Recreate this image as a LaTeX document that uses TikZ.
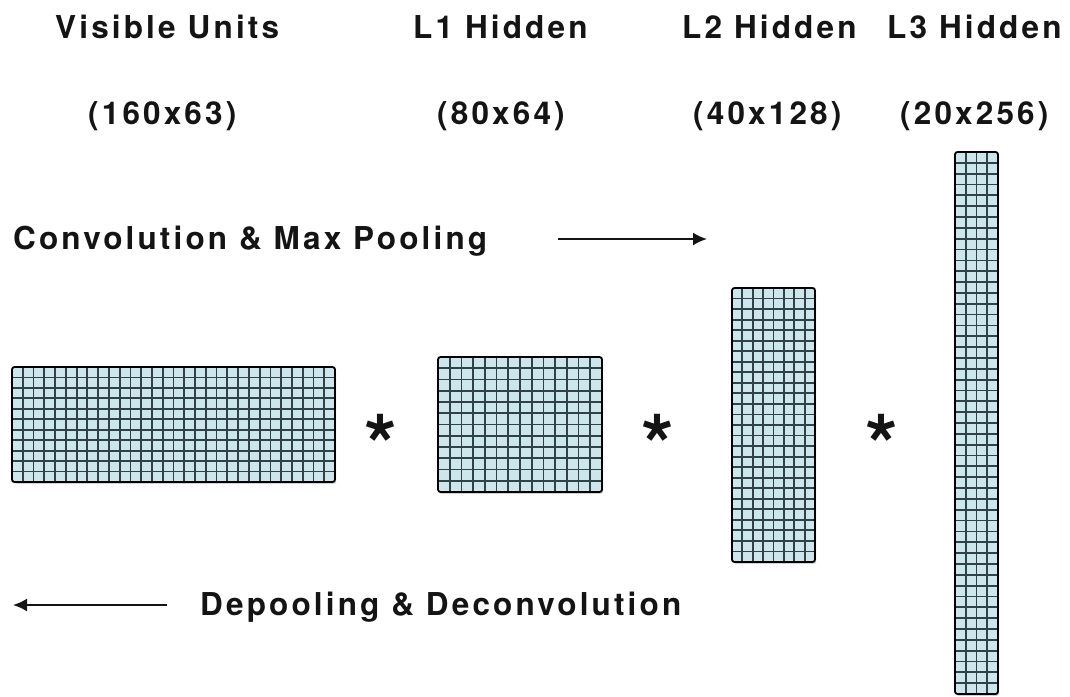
\documentclass[tikz,border=0pt]{standalone}
\usepackage{fontspec}
\setmainfont{TeX Gyre Heros}[LetterSpace=10]
\usetikzlibrary{arrows.meta,shadows,calc}
\definecolor{cellfill}{RGB}{205,230,236}
\definecolor{gridc}{RGB}{48,66,72}
\definecolor{ink}{RGB}{20,20,20}
\tikzset{
  lbl/.style={font=\bfseries\fontsize{31.5}{36}\selectfont, text=ink, inner sep=0pt, anchor=base west},
  star/.style={font=\bfseries\fontsize{84}{90}\selectfont, text=ink, inner sep=0pt},
  gridline/.style={draw=gridc, line width=1.8pt},
  flow/.style={draw=ink, line width=2pt, -{Latex[length=14pt,width=13pt]}},
  layer/.style 2 args={draw=black, line width=1.8pt, rounded corners=2.5pt, fill=cellfill,
    inner sep=0pt, outer sep=0pt,
    drop shadow={opacity=0.35, shadow xshift=1.2pt, shadow yshift=-1.8pt},
    path picture={
      \foreach \i in {1,...,#1}
        \draw[gridline] ($(path picture bounding box.north west)!{\i/(#1+1)}!(path picture bounding box.north east)$)
          -- ($(path picture bounding box.south west)!{\i/(#1+1)}!(path picture bounding box.south east)$);
      \foreach \j in {1,...,#2}
        \draw[gridline] ($(path picture bounding box.north west)!{\j/(#2+1)}!(path picture bounding box.south west)$)
          -- ($(path picture bounding box.north east)!{\j/(#2+1)}!(path picture bounding box.south east)$);
    }},
}
\begin{document}
\begin{tikzpicture}[x=1pt,y=-1pt]
\path[use as bounding box, fill=white] (0,0) rectangle (1070,696);

% titles
\node[lbl] (tv) at (55,38) {Visible Units};
\node[lbl] (t1) at (413,38) {L1 Hidden};
\node[lbl] (t2) at (682,38) {L2 Hidden};
\node[lbl] (t3) at (887,38) {L3 Hidden};
\node[lbl] (sv) at (88,124) {(160x63)};
\node[lbl] (s1) at (437,124) {(80x64)};
\node[lbl] (s2) at (693,124) {(40x128)};
\node[lbl] (s3) at (900,124) {(20x256)};

\node[lbl] (conv) at (13,249) {Convolution \& Max Pooling};
\node[lbl] (deconv) at (200,615) {Depooling \& Deconvolution};

% layers
\node[layer={29}{10}, minimum width=323pt, minimum height=115pt] (v) at (173.5,424.5) {};
\node[layer={13}{11}, minimum width=164pt, minimum height=135pt] (l1) at (520,424.5) {};
\node[layer={7}{25}, minimum width=83pt, minimum height=274pt] (l2) at (773.5,425) {};
\node[layer={3}{49}, minimum width=43pt, minimum height=542pt] (l3) at (976.5,423) {};

% convolution operators
\node[star] (s12) at (381,445) {*};
\node[star] (s23) at (658,445) {*};
\node[star] (s34) at (882,445) {*};

% arrows
\coordinate (ra) at (558,239);
\coordinate (rb) at (707,239);
\coordinate (la) at (167,605);
\coordinate (lb) at (13,605);
\draw[flow] (ra) -- (rb);
\draw[flow] (la) -- (lb);
\end{tikzpicture}
\end{document}
